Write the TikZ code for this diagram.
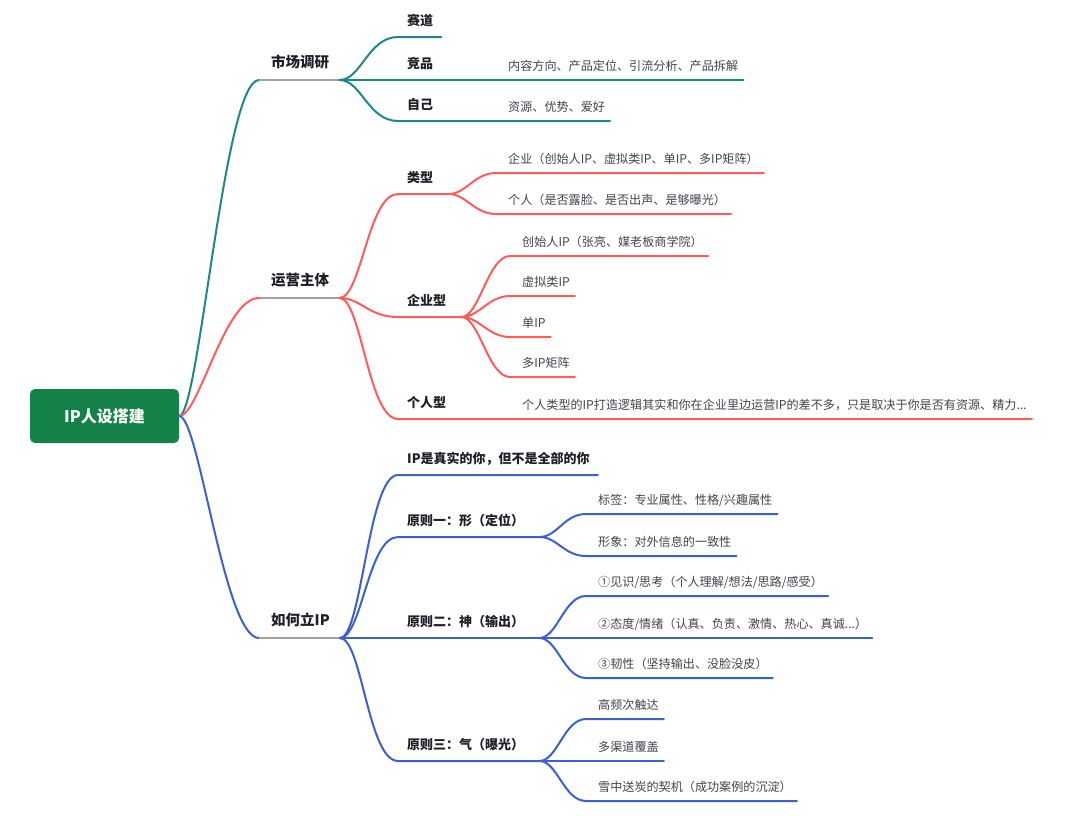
\documentclass[tikz,border=0pt]{standalone}
\usepackage{fontspec}
\setmainfont{Noto Sans CJK SC}
\definecolor{rootgreen}{RGB}{20,130,72}
\definecolor{tealbr}{RGB}{30,136,134}
\definecolor{redbr}{RGB}{255,92,94}
\definecolor{bluebr}{RGB}{60,96,204}
\definecolor{ulgray}{RGB}{160,162,160}
\definecolor{topictext}{RGB}{30,30,40}
\definecolor{leaftext}{RGB}{66,66,76}

\begin{document}
\begin{tikzpicture}[x=1pt,y=-1pt,
  rootbox/.style={fill=rootgreen, rounded corners=5pt, text=white, font=\fontsize{16}{18}\selectfont\bfseries, minimum width=149pt, minimum height=54pt, inner sep=0pt},
  base/.style={anchor=south west, inner xsep=0pt, text depth=0pt},
  lvone/.style={base, inner ysep=12.5pt, text=topictext, font=\fontsize{14.5}{16}\selectfont\bfseries, execute at begin node={\hspace*{12pt}}, execute at end node={\hspace*{10pt}}},
  lvtwo/.style={base, inner ysep=11pt, text=topictext, font=\fontsize{13}{15}\selectfont\bfseries, execute at begin node={\hspace*{9pt}}, execute at end node={\hspace*{#1}}},
  lvtwo/.default=15pt,
  leaf/.style={base, inner ysep=9pt, text=leaftext, font=\fontsize{12.1}{14}\selectfont, execute at begin node={\hspace*{12pt}}, execute at end node={\hspace*{5pt}}},
  br/.style={line width=2pt, line cap=round, draw=#1},
  ul/.style={line width=2pt, draw=ulgray}]
  \useasboundingbox (0,0) rectangle (1080,815);

  \node[rootbox] (root) at (104.5,416) {IP人设搭建};

  \node[lvone] (mkt) at (259,80) {市场调研};
  \node[lvone] (ops) at (259,298) {运营主体};
  \node[lvone] (how) at (259,638) {如何立IP};

  \node[lvtwo=8pt] (sd) at (398,37) {赛道};
  \node[lvtwo] (jp) at (398,80) {竞品};
  \node[lvtwo] (zj) at (398,121) {自己};
  \node[leaf] (jpx) at (496,80) {内容方向、产品定位、引流分析、产品拆解};
  \node[leaf] (zjx) at (496,121) {资源、优势、爱好};

  \node[lvtwo] (lx) at (398,194) {类型};
  \node[lvtwo] (qy) at (398,317) {企业型};
  \node[lvtwo] (gr) at (398,419) {个人型};
  \node[leaf] (lxa) at (496,173) {企业（创始人IP、虚拟类IP、单IP、多IP矩阵）};
  \node[leaf] (lxb) at (496,214) {个人（是否露脸、是否出声、是够曝光）};
  \node[leaf] (qya) at (510,256) {创始人IP（张亮、媒老板商学院）};
  \node[leaf] (qyb) at (510,296) {虚拟类IP};
  \node[leaf] (qyc) at (510,337) {单IP};
  \node[leaf] (qyd) at (510,377) {多IP矩阵};
  \node[leaf] (grx) at (510,419) {个人类型的IP打造逻辑其实和你在企业里边运营IP的差不多，只是取决于你是否有资源、精力...};

  \node[lvtwo=8pt] (ip) at (398,475) {IP是真实的你，但不是全部的你};
  \node[lvtwo] (y1) at (398,537) {原则一：形（定位）};
  \node[lvtwo] (y2) at (398,638) {原则二：神（输出）};
  \node[lvtwo] (y3) at (398,761) {原则三：气（曝光）};
  \node[leaf] (y1a) at (586,514) {标签：专业属性、性格/兴趣属性};
  \node[leaf] (y1b) at (586,556) {形象：对外信息的一致性};
  \node[leaf] (y2a) at (586,596) {①见识/思考（个人理解/想法/思路/感受）};
  \node[leaf] (y2b) at (586,638) {②态度/情绪（认真、负责、激情、热心、真诚...）};
  \node[leaf] (y2c) at (586,678) {③韧性（坚持输出、没脸没皮）};
  \node[leaf] (y3a) at (586,719) {高频次触达};
  \node[leaf] (y3b) at (586,761) {多渠道覆盖};
  \node[leaf] (y3c) at (586,801) {雪中送炭的契机（成功案例的沉淀）};

  \draw[br=tealbr] (root.east) .. controls +(20,0) and +(-35,0) .. (mkt.south west);
  \draw[br=redbr] (root.east) .. controls +(20,0) and +(-35,0) .. (ops.south west);
  \draw[br=bluebr] (root.east) .. controls +(20,0) and +(-35,0) .. (how.south west);
  \draw[ul] (mkt.south west) -- (mkt.south east);
  \draw[ul] (ops.south west) -- (ops.south east);
  \draw[ul] (how.south west) -- (how.south east);

  \draw[br=tealbr] (mkt.south east) .. controls +(22,0) and +(-30,0) .. (sd.south west) -- (sd.south east);
  \draw[br=tealbr] (mkt.south east) -- (jp.south west) -- (jp.south east) -- (jpx.south west) -- (jpx.south east);
  \draw[br=tealbr] (mkt.south east) .. controls +(22,0) and +(-30,0) .. (zj.south west) -- (zj.south east) -- (zjx.south west) -- (zjx.south east);

  \draw[br=redbr] (ops.south east) .. controls +(22,0) and +(-30,0) .. (lx.south west) -- (lx.south east);
  \draw[br=redbr] (ops.south east) .. controls +(22,0) and +(-30,0) .. (qy.south west) -- (qy.south east);
  \draw[br=redbr] (ops.south east) .. controls +(22,0) and +(-30,0) .. (gr.south west) -- (gr.south east) -- (grx.south west) -- (grx.south east);
  \draw[br=redbr] (lx.south east) .. controls +(18,0) and +(-22,0) .. (lxa.south west) -- (lxa.south east);
  \draw[br=redbr] (lx.south east) .. controls +(18,0) and +(-22,0) .. (lxb.south west) -- (lxb.south east);
  \draw[br=redbr] (qy.south east) .. controls +(18,0) and +(-22,0) .. (qya.south west) -- (qya.south east);
  \draw[br=redbr] (qy.south east) .. controls +(18,0) and +(-22,0) .. (qyb.south west) -- (qyb.south east);
  \draw[br=redbr] (qy.south east) .. controls +(18,0) and +(-22,0) .. (qyc.south west) -- (qyc.south east);
  \draw[br=redbr] (qy.south east) .. controls +(18,0) and +(-22,0) .. (qyd.south west) -- (qyd.south east);

  \draw[br=bluebr] (how.south east) .. controls +(22,0) and +(-30,0) .. (ip.south west) -- (ip.south east);
  \draw[br=bluebr] (how.south east) .. controls +(22,0) and +(-30,0) .. (y1.south west) -- (y1.south east);
  \draw[br=bluebr] (how.south east) -- (y2.south west) -- (y2.south east);
  \draw[br=bluebr] (how.south east) .. controls +(22,0) and +(-30,0) .. (y3.south west) -- (y3.south east);
  \draw[br=bluebr] (y1.south east) .. controls +(18,0) and +(-22,0) .. (y1a.south west) -- (y1a.south east);
  \draw[br=bluebr] (y1.south east) .. controls +(18,0) and +(-22,0) .. (y1b.south west) -- (y1b.south east);
  \draw[br=bluebr] (y2.south east) .. controls +(18,0) and +(-22,0) .. (y2a.south west) -- (y2a.south east);
  \draw[br=bluebr] (y2.south east) -- (y2b.south west) -- (y2b.south east);
  \draw[br=bluebr] (y2.south east) .. controls +(18,0) and +(-22,0) .. (y2c.south west) -- (y2c.south east);
  \draw[br=bluebr] (y3.south east) .. controls +(18,0) and +(-22,0) .. (y3a.south west) -- (y3a.south east);
  \draw[br=bluebr] (y3.south east) -- (y3b.south west) -- (y3b.south east);
  \draw[br=bluebr] (y3.south east) .. controls +(18,0) and +(-22,0) .. (y3c.south west) -- (y3c.south east);
\end{tikzpicture}
\end{document}
